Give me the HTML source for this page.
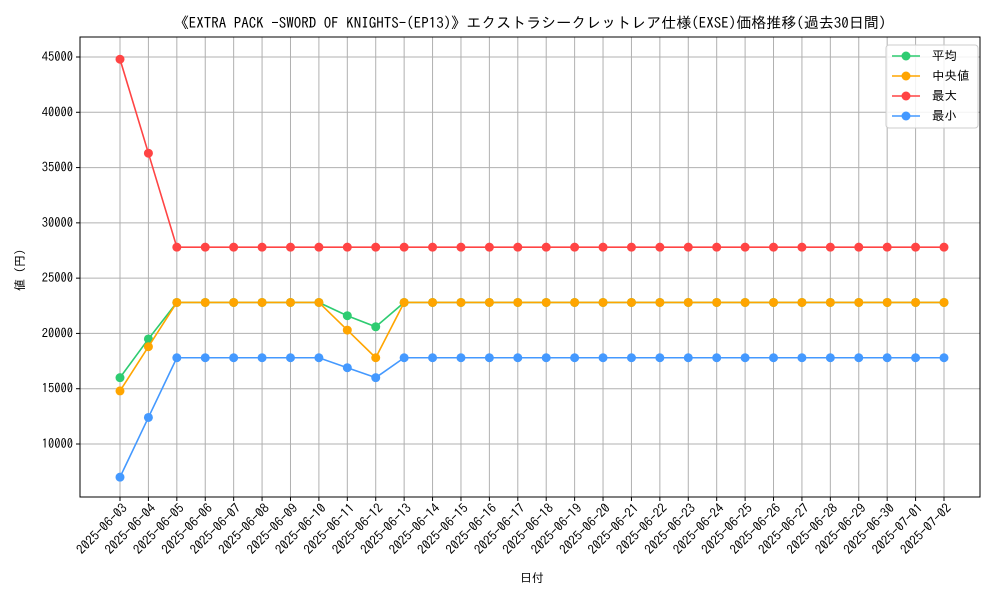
<!DOCTYPE html>
<html><head><meta charset="utf-8"><style>
body{margin:0;background:#fff}
svg text{font-family:"IPAGothic","DejaVu Sans Mono","Noto Sans CJK JP",monospace;fill:#000}
</style></head><body>
<svg id="c" width="1000" height="600">
<rect width="1000" height="600" fill="#fff"/>
<text x="530" y="28" font-size="15" text-anchor="middle">《EXTRA PACK -SWORD OF KNIGHTS-(EP13)》エクストラシークレットレア仕様(EXSE)価格推移(過去30日間)</text>
<g id="grid"></g><g id="axes"></g><g id="series"></g>
<text x="532" y="582" font-size="12" text-anchor="middle">日付</text>
<text transform="translate(24,267) rotate(-90)" font-size="12" text-anchor="middle">値（円）</text>
<g id="legend"></g>
</svg>
<script>
const dates=["2025-06-03","2025-06-04","2025-06-05","2025-06-06","2025-06-07","2025-06-08","2025-06-09","2025-06-10","2025-06-11","2025-06-12","2025-06-13","2025-06-14","2025-06-15","2025-06-16","2025-06-17","2025-06-18","2025-06-19","2025-06-20","2025-06-21","2025-06-22","2025-06-23","2025-06-24","2025-06-25","2025-06-26","2025-06-27","2025-06-28","2025-06-29","2025-06-30","2025-07-01","2025-07-02"];
const avgVals=[16000,19500,22800,22800,22800,22800,22800,22800,21600,20600,22800,22800,22800,22800,22800,22800,22800,22800,22800,22800,22800,22800,22800,22800,22800,22800,22800,22800,22800,22800];
const medVals=[14800,18800,22800,22800,22800,22800,22800,22800,20300,17800,22800,22800,22800,22800,22800,22800,22800,22800,22800,22800,22800,22800,22800,22800,22800,22800,22800,22800,22800,22800];
const maxVals=[44800,36300,27800,27800,27800,27800,27800,27800,27800,27800,27800,27800,27800,27800,27800,27800,27800,27800,27800,27800,27800,27800,27800,27800,27800,27800,27800,27800,27800,27800];
const minVals=[7000,12400,17800,17800,17800,17800,17800,17800,16900,16000,17800,17800,17800,17800,17800,17800,17800,17800,17800,17800,17800,17800,17800,17800,17800,17800,17800,17800,17800,17800];
const yTicks=[10000,15000,20000,25000,30000,35000,40000,45000];
const seriesNames=["平均","中央値","最大","最小"];
const NS="http://www.w3.org/2000/svg";
const L=80,R=980,T=37,B=497;
const x=i=>120+i*(944-120)/(dates.length-1);
const y=v=>444-(v-10000)*(444-57)/35000;
function mk(p,tag,a){const e=document.createElementNS(NS,tag);for(const k in a)e.setAttribute(k,a[k]);p.appendChild(e);return e;}
const grid=document.getElementById('grid'),axes=document.getElementById('axes'),ser=document.getElementById('series'),leg=document.getElementById('legend');
dates.forEach((d,i)=>{
 const g=mk(grid,'line',{x1:x(i),x2:x(i),y1:T,y2:B,stroke:'#b0b0b0','stroke-width':1});
 
 
 mk(axes,'line',{x1:x(i),x2:x(i),y1:B,y2:B+4,stroke:'#000'});
 const t=mk(axes,'text',{x:x(i)+8,y:B+12,'font-size':13,'text-anchor':'end',transform:`rotate(-45 ${x(i)+8} ${B+12})`});
 t.textContent=d;
 
 
});
yTicks.forEach(v=>{
 const g=mk(grid,'line',{x1:L,x2:R,y1:y(v),y2:y(v),stroke:'#b0b0b0','stroke-width':1});
 
 
 mk(axes,'line',{x1:L-4,x2:L,y1:y(v),y2:y(v),stroke:'#000'});
 const t=mk(axes,'text',{x:L-7,y:y(v)+4,'font-size':12.5,'text-anchor':'end'});
 t.textContent=v;
 
 
});
const frame=mk(axes,'rect',{x:L,y:T,width:R-L,height:B-T,fill:'none',stroke:'#000'});


const all=[avgVals,medVals,maxVals,minVals];
const cols=["#2ecc71","#ffa500","#ff4444","#4499ff"];
const keys=["avg","median","max","min"];
all.forEach((vals,s)=>{
 const g=mk(ser,'g',{});
 
 
 const p=mk(g,'polyline',{points:vals.map((v,i)=>x(i)+','+y(v)).join(' '),fill:'none',stroke:cols[s],'stroke-width':1.6});
 
 
 vals.forEach((v,i)=>{
  const c=mk(g,'circle',{cx:x(i),cy:y(v),r:4.5,fill:cols[s]});
  
  
 });
});
const lb=mk(leg,'rect',{x:886,y:45,width:92,height:83,rx:3,fill:'#fff','fill-opacity':0.85,stroke:'#ccc'});


seriesNames.forEach((n,s)=>{
 const yy=56+s*20;
 const g=mk(leg,'g',{});
 
 
 mk(g,'line',{x1:892,x2:920,y1:yy,y2:yy,stroke:cols[s],'stroke-width':1.6});
 mk(g,'circle',{cx:906,cy:yy,r:4.5,fill:cols[s]});
 const t=mk(g,'text',{x:932,y:yy+4,'font-size':12.5});
 t.textContent=(s==1?" ":"")+n;
});
</script>
</body></html>
